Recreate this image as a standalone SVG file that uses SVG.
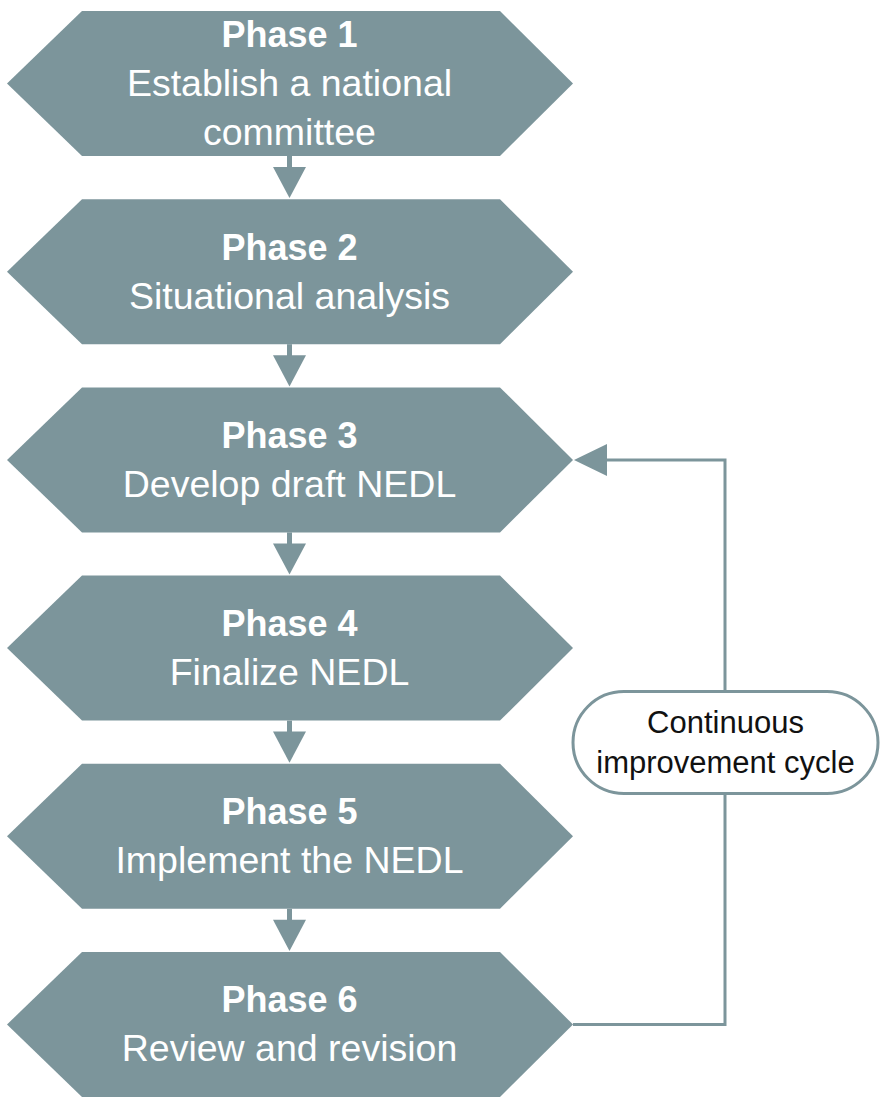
<svg xmlns="http://www.w3.org/2000/svg" width="882" height="1109" viewBox="0 0 882 1109">
<style>
.hex{fill:#7C959B}
.t{font-family:"Liberation Sans",Arial,sans-serif;font-size:37.5px;fill:#ffffff;text-anchor:middle}
.b{font-weight:bold;font-size:36px}
.c{fill:none;stroke:#7C959B;stroke-width:3}
.s{stroke:#7C959B;stroke-width:5}
.ah{fill:#7C959B}
.pill{fill:#ffffff;stroke:#7C959B;stroke-width:3}
.pt{font-family:"Liberation Sans",Arial,sans-serif;font-size:31px;fill:#111111;text-anchor:middle}
</style>
<g id="connectors">
<line class="s" x1="289.5" y1="156" x2="289.5" y2="168"/>
<polygon class="ah" points="273,167 306,167 289.5,198"/>
<line class="s" x1="289.5" y1="344.2" x2="289.5" y2="356"/>
<polygon class="ah" points="273,355.2 306,355.2 289.5,386.4"/>
<line class="s" x1="289.5" y1="532.4" x2="289.5" y2="544"/>
<polygon class="ah" points="273,543.4 306,543.4 289.5,574.6"/>
<line class="s" x1="289.5" y1="720.6" x2="289.5" y2="732"/>
<polygon class="ah" points="273,731.6 306,731.6 289.5,762.8"/>
<line class="s" x1="289.5" y1="908.8" x2="289.5" y2="920"/>
<polygon class="ah" points="273,919.8 306,919.8 289.5,951"/>
<polyline class="c" points="573,1024.5 725,1024.5 725,460 600,460"/>
<polygon class="ah" points="574,460 607,444 607,476"/>
</g>
<g id="phase1">
<polygon class="hex" points="7,83.5 82,11 500,11 573,83.5 500,156 82,156"/>
<text class="t b" x="289.5" y="47">Phase 1</text>
<text class="t" x="289.5" y="96">Establish a national</text>
<text class="t" x="289.5" y="145">committee</text>
</g>
<g id="phase2">
<polygon class="hex" points="7,271.7 82,199.2 500,199.2 573,271.7 500,344.2 82,344.2"/>
<text class="t b" x="289.5" y="259.5">Phase 2</text>
<text class="t" x="289.5" y="308.5">Situational analysis</text>
</g>
<g id="phase3">
<polygon class="hex" points="7,459.9 82,387.4 500,387.4 573,459.9 500,532.4 82,532.4"/>
<text class="t b" x="289.5" y="447.7">Phase 3</text>
<text class="t" x="289.5" y="496.7">Develop draft NEDL</text>
</g>
<g id="phase4">
<polygon class="hex" points="7,648.1 82,575.6 500,575.6 573,648.1 500,720.6 82,720.6"/>
<text class="t b" x="289.5" y="635.9">Phase 4</text>
<text class="t" x="289.5" y="684.9">Finalize NEDL</text>
</g>
<g id="phase5">
<polygon class="hex" points="7,836.3 82,763.8 500,763.8 573,836.3 500,908.8 82,908.8"/>
<text class="t b" x="289.5" y="824.1">Phase 5</text>
<text class="t" x="289.5" y="873.1">Implement the NEDL</text>
</g>
<g id="phase6">
<polygon class="hex" points="7,1024.5 82,952 500,952 573,1024.5 500,1097 82,1097"/>
<text class="t b" x="289.5" y="1012.3">Phase 6</text>
<text class="t" x="289.5" y="1061.3">Review and revision</text>
</g>
<g id="cycle">
<rect class="pill" x="573" y="691.5" width="305" height="102" rx="51" ry="51"/>
<text class="pt" x="725.5" y="733">Continuous</text>
<text class="pt" x="725.5" y="773">improvement cycle</text>
</g>
</svg>
